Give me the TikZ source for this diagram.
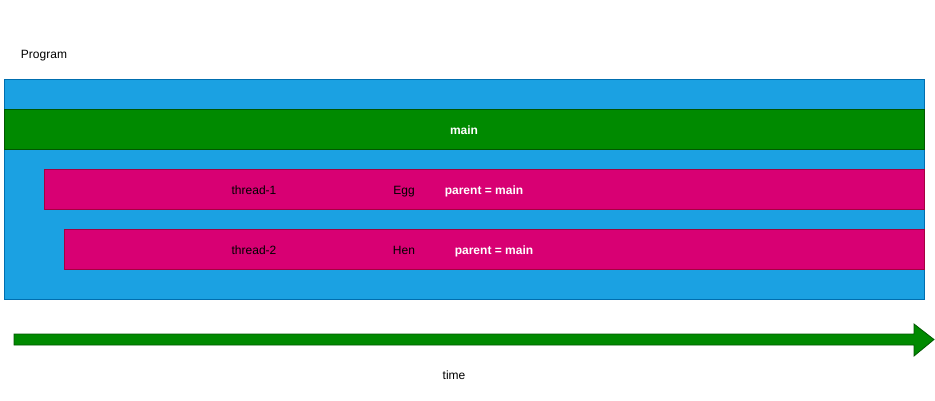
\documentclass[tikz,border=0pt]{standalone}
\usepackage{fontspec}
\setmainfont{Liberation Sans}
\usetikzlibrary{positioning}
\definecolor{pblue}{HTML}{1BA1E2}
\definecolor{pbluedk}{HTML}{006EAF}
\definecolor{mgreen}{HTML}{008A00}
\definecolor{mgreendk}{HTML}{005700}
\definecolor{tpink}{HTML}{D80073}
\definecolor{tpinkdk}{HTML}{A50040}
\tikzset{bar/.style = {rectangle, anchor=north west, inner sep=0pt, outer sep=0pt,
                       line width=0.8pt},
         lbl/.style = {font=\fontsize{12}{14}\selectfont, inner sep=0pt,
                       text height=10.6pt, text depth=0.6pt},
         wlbl/.style = {lbl, text=white, font=\fontsize{12}{14}\selectfont\bfseries}}

\begin{document}
\begin{tikzpicture}[x=1pt, y=-1pt]
    \useasboundingbox (0,0) rectangle (935,400);

    \node [lbl] (proglbl) at (44,53) {Program};
    \node [bar, fill=pblue, draw=pbluedk, minimum width=920, minimum height=220] (program) at (4,79) {};
    \node [bar, fill=mgreen, draw=mgreendk, minimum width=920, minimum height=40] (main) at (4,109) {};
    \node [wlbl] (mainlbl) at (main.center) {main};

    \begin{scope}
      \node [bar, fill=tpink, draw=tpinkdk, minimum width=880, minimum height=40] (thread1) at (44,169) {};
      \node [lbl] (t1name) at (254,189) {thread-1};
      \node [lbl] (t1obj) at (404,189) {Egg};
      \node [wlbl] (t1parent) at (484,189) {parent = main};
    \end{scope}

    \begin{scope}
      \node [bar, fill=tpink, draw=tpinkdk, minimum width=860, minimum height=40] (thread2) at (64,229) {};
      \node [lbl] (t2name) at (254,249) {thread-2};
      \node [lbl] (t2obj) at (404,249) {Hen};
      \node [wlbl] (t2parent) at (494,249) {parent = main};
    \end{scope}

    \coordinate (tstart) at (14,339.5);
    \coordinate (ttip) at (934,339.5);
    \fill [mgreen, draw=mgreendk, line width=0.8pt]
      ([yshift=-5.5]tstart) -- ([xshift=-20, yshift=-5.5]ttip) -- ([xshift=-20, yshift=-16.5]ttip)
      -- (ttip) -- ([xshift=-20, yshift=15.5]ttip) -- ([xshift=-20, yshift=5.5]ttip)
      -- ([yshift=5.5]tstart) -- cycle;
    \node [lbl] (timelbl) at (454,374) {time};
\end{tikzpicture}
\end{document}
